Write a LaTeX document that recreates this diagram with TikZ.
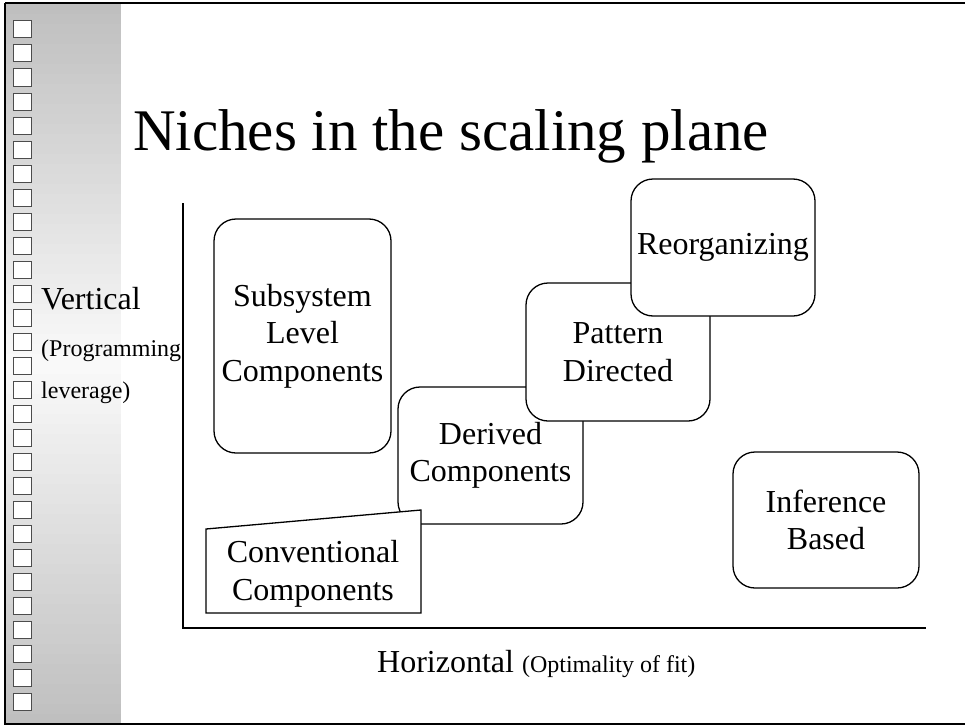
\documentclass[tikz,border=0pt]{standalone}
\usepackage{fontspec}
\setmainfont{Liberation Serif}
\usetikzlibrary{positioning}

\begin{document}
\begin{tikzpicture}[
		x=1pt, y=-1pt,
		niche/.style={
			draw,
			fill=white,
			line width=1.3pt,
			rounded corners=22pt,
			align=center,
			inner sep=0pt,
			font=\fontsize{32}{37.5}\selectfont
		},
		caption/.style={
			anchor=base west,
			inner sep=0pt,
			font=\fontsize{32}{37.5}\selectfont
		},
		small/.style={
			anchor=base west,
			inner sep=0pt,
			font=\fontsize{24}{28}\selectfont
		},
		axis/.style={line width=2pt},
		bullet/.style={draw=black!70, fill=white, line width=1pt}
		]
		
		\useasboundingbox (0,0) rectangle (966,725);
		
		%--------------------------------------------------
		% Slide background
		%--------------------------------------------------
		
		\foreach \i in {0,...,71}{
			\pgfmathsetmacro{\g}{2+23*abs(\i-35.5)/35.5}
			\fill[black!\g] (6,4+10*\i) rectangle (121,15+10*\i);
		}
		
		\draw[line width=1.2pt] (5,3) -- (965,3);
		\draw[line width=1.2pt] (5,3) -- (5,724) -- (965,724);
		
		\foreach \k in {0,...,28}
		\draw[bullet] (13,21+24*\k) rectangle (31,38+24*\k);
		
		%--------------------------------------------------
		% Texts
		%--------------------------------------------------
		
		\node (title) [anchor=base west, inner sep=0pt,
		font=\fontsize{59}{66}\selectfont] at (133,150)
		{Niches in the scaling plane};
		
		\node (vert) [caption] at (41,309) {Vertical};
		
		\node (prog) [small] at (41,356) {(Programming};
		
		\node (lever) [small] at (41,398) {leverage)};
		
		\node (horiz) [caption] at (377,672)
		{Horizontal {\fontsize{24}{28}\selectfont (Optimality of fit)}};
		
		%--------------------------------------------------
		% Axes
		%--------------------------------------------------
		
		\coordinate (ytop) at (183,203);
		\coordinate (xend) at (926,628);
		
		\draw[axis] (ytop) |- (xend);
		
		%--------------------------------------------------
		% Niches
		%--------------------------------------------------
		
		\node (subsys) [niche, minimum width=177pt, minimum height=234pt]
		at (302.5,336) {Subsystem\\Level\\Components};
		
		\node (derived) [niche, minimum width=185pt, minimum height=137pt]
		at (490.5,455.5) {Derived\\Components};
		
		\draw[fill=white, line width=1.3pt]
		(206,529) -- (421,510) -- (421,613) -- (206,613) -- cycle;
		
		\node (conv) [niche, draw=none, fill=none] at (313,574)
		{Conventional\\Components};
		
		\node (pattern) [niche, minimum width=184pt, minimum height=138pt]
		at (618,352) {Pattern\\Directed};
		
		\node (reorg) [niche, minimum width=184pt, minimum height=137pt]
		at (723,247.5) {Reorganizing};
		
		\node (infer) [niche, minimum width=186pt, minimum height=136pt]
		at (826,520) {Inference\\Based};
		
	\end{tikzpicture}
\end{document}
